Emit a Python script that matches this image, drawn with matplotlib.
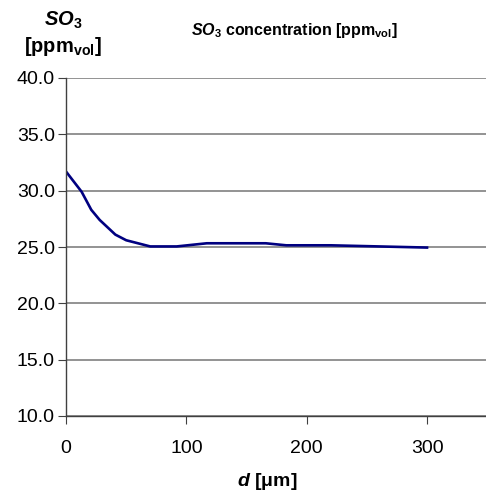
import matplotlib
matplotlib.use("Agg")
import matplotlib.pyplot as plt

plt.rcParams['font.family'] = ['Liberation Sans', 'DejaVu Sans']
plt.rcParams['mathtext.fontset'] = 'custom'
plt.rcParams['mathtext.it'] = 'Liberation Sans:bold:italic'
plt.rcParams['mathtext.rm'] = 'Liberation Sans:bold'
plt.rcParams['mathtext.bf'] = 'Liberation Sans:bold'

d_um = [0, 13, 21, 28, 41, 50, 70, 92, 117, 140, 166, 183, 220, 260, 300]
so3_ppm = [31.7, 29.9, 28.3, 27.4, 26.1, 25.6, 25.05, 25.05, 25.33, 25.33, 25.33, 25.15, 25.15, 25.05, 24.95]
yticks = [10, 15, 20, 25, 30, 35, 40]
xticks = [0, 100, 200, 300]

fig = plt.figure(figsize=(4.86, 4.99), dpi=100)
ax = fig.add_axes([66/486, 1-416/499, 1-66/486, (416-78)/499])
ax.plot(d_um, so3_ppm, color='#000080', lw=1.9)
ax.set_xlim(0, 349)
ax.set_ylim(10, 40)
ax.set_yticks(yticks)
ax.set_yticklabels([f"{v:.1f}" for v in yticks])
ax.set_xticks(xticks)
ax.yaxis.grid(True, color='#808080', lw=1.2)
ax.set_axisbelow(True)
for s in ['top', 'right']:
    ax.spines[s].set_visible(False)
for s in ['left', 'bottom']:
    ax.spines[s].set_color('#404040')
    ax.spines[s].set_linewidth(1.0)
ax.tick_params(axis='both', labelsize=14, length=6, color='#404040', direction='out', pad=2)
ax.tick_params(axis='x', pad=11)

fig.text(294/486, 1-31/499, r"$SO_{3}$ concentration [ppm$_{\rm vol}$]", ha='center', va='center', fontsize=11.5, fontweight='bold')
fig.text(63/486, 1-20/499, r"$SO_{3}$", ha='center', va='center', fontsize=14.5)
fig.text(63/486, 1-46/499, r"[ppm$_{\rm vol}$]", ha='center', va='center', fontsize=14.5, fontweight='bold')
fig.text(267/486, 1-482/499, r"$d$ [μm]", ha='center', va='center', fontsize=14, fontweight='bold')

fig.savefig("out.png", dpi=100)
